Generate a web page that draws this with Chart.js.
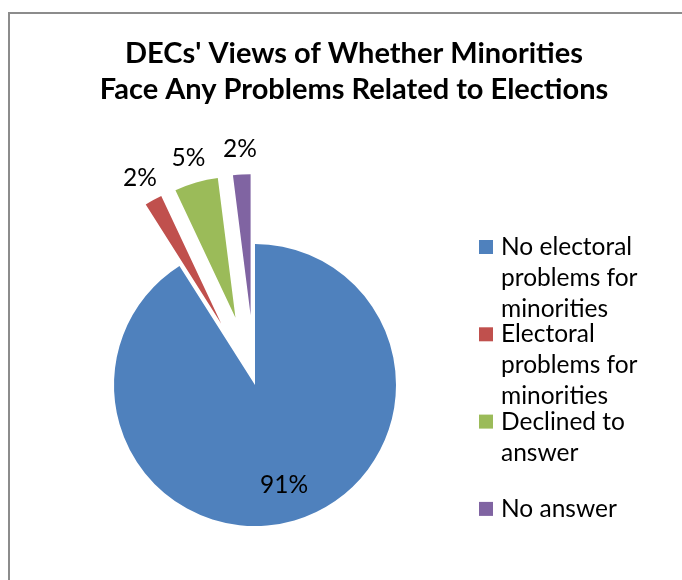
<!DOCTYPE html>
<html>
<head>
<meta charset="utf-8">
<script src="https://cdn.jsdelivr.net/npm/chart.js@4/dist/chart.umd.min.js"></script>
<style>
  html, body { margin: 0; padding: 0; background: #fff; }
  #wrap { position: relative; width: 682px; height: 580px; }
</style>
</head>
<body>
<div id="wrap"><canvas id="pie" width="682" height="580"></canvas></div>
<script>
// Chart data
const titleLines = ["DECs' Views of Whether Minorities", "Face Any Problems Related to Elections"];
const categories = [
  ["No electoral", "problems for", "minorities"],
  ["Electoral", "problems for", "minorities"],
  ["Declined to", "answer"],
  ["No answer"]
];
const shares = [91, 2, 5, 2];
const sliceColors = ["#4F81BD", "#C0504D", "#9BBB59", "#8064A2"];
const explode = [0, 70, 70, 70];

const FONT = "Lato, 'Liberation Sans', sans-serif";

// Excel-style explosion: shift whole slice along its bisector (no radius growth)
const explodePlugin = {
  id: "explode",
  beforeDatasetDraw(chart, args) {
    args.meta.data.forEach((arc, i) => {
      if (arc._exploded) return;
      arc._exploded = true;
      const d = explode[i];
      const baseDraw = arc.draw;
      arc.draw = function (ctx, area) {
        const mid = (this.startAngle + this.endAngle) / 2;
        ctx.save();
        ctx.translate(Math.cos(mid) * d, Math.sin(mid) * d);
        baseDraw.call(this, ctx, area);
        ctx.restore();
      };
    });
  }
};

// Border, title, legend and value labels
const decorPlugin = {
  id: "decor",
  beforeDraw(chart) {
    const ctx = chart.ctx;
    ctx.save();
    ctx.strokeStyle = "#8c8c8c";
    ctx.lineWidth = 2;
    ctx.beginPath();
    ctx.moveTo(9, 600);
    ctx.lineTo(9, 13);
    ctx.lineTo(700, 13);
    ctx.stroke();
    ctx.restore();
  },
  afterDraw(chart) {
    const ctx = chart.ctx;
    ctx.save();
    ctx.fillStyle = "#000";

    // title
    ctx.font = "bold 29px " + FONT;
    ctx.textAlign = "center";
    ctx.textBaseline = "alphabetic";
    titleLines.forEach((t, i) => ctx.fillText(t, 354, 63 + i * 36));

    // legend
    ctx.font = "24.5px " + FONT;
    ctx.textAlign = "left";
    categories.forEach((lines, k) => {
      const base = 255 + k * 87.3;
      ctx.fillStyle = sliceColors[k];
      ctx.fillRect(479, base - 15, 14, 14);
      ctx.fillStyle = "#000";
      lines.forEach((t, i) => ctx.fillText(t, 501, base + i * 31));
    });

    // value labels
    const meta = chart.getDatasetMeta(0);
    ctx.textAlign = "center";
    ctx.textBaseline = "middle";
    meta.data.forEach((arc, i) => {
      const p = arc.getProps(["x", "y", "startAngle", "endAngle", "outerRadius"], true);
      const mid = (p.startAngle + p.endAngle) / 2;
      const ux = Math.cos(mid), uy = Math.sin(mid);
      const txt = shares[i] + "%";
      let x, y;
      if (explode[i] === 0) {
        x = p.x + ux * p.outerRadius * 0.74;
        y = p.y + uy * p.outerRadius * 0.74;
      } else {
        const w = ctx.measureText(txt).width;
        const r = explode[i] + p.outerRadius + 11;
        x = p.x + ux * r + ux * w / 2;
        y = p.y + uy * r + uy * 14;
      }
      ctx.fillText(txt, x, y);
    });
    ctx.restore();
  }
};

new Chart(document.getElementById("pie"), {
  type: "pie",
  data: {
    labels: categories.map(l => l.join(" ")),
    datasets: [{
      data: shares,
      backgroundColor: sliceColors,
      borderWidth: 0,
      radius: 141,
      clip: false
    }]
  },
  options: {
    responsive: false,
    animation: false,
    layout: { padding: { left: 0, right: 172, top: 200, bottom: 10 } },
    plugins: {
      legend: { display: false },
      title: { display: false },
      tooltip: { enabled: false }
    }
  },
  plugins: [explodePlugin, decorPlugin]
});
</script>
</body>
</html>
